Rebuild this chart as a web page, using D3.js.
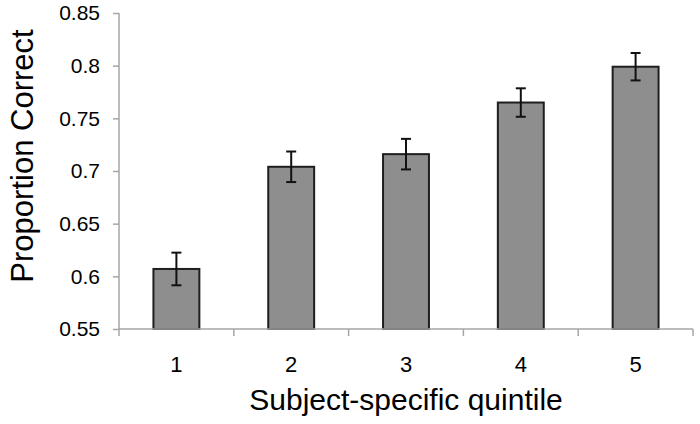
<!DOCTYPE html>
<html>
<head>
<meta charset="utf-8">
<script src="https://cdn.jsdelivr.net/npm/d3@7"></script>
<style>
  body { margin: 0; background: #fff; }
  svg { font-family: "Liberation Sans", Arial, sans-serif; }
  .axis path, .axis line { stroke: #a6a6a6; stroke-width: 1.5; }
</style>
</head>
<body>
<svg id="chart"></svg>
<script>
// Data
var categories = ["1", "2", "3", "4", "5"];
var values = [0.607, 0.704, 0.716, 0.765, 0.799];
var errors = [0.0155, 0.0145, 0.0145, 0.0135, 0.013];
var yTicks = [0.55, 0.6, 0.65, 0.7, 0.75, 0.8, 0.85];

var W = 700, H = 424;
var margin = { top: 13, right: 7, bottom: 95, left: 119 };

var svg = d3.select('#chart')
    .attr('width', W)
    .attr('height', H);

// Scales
var x = d3.scaleBand()
    .domain(categories)
    .range([margin.left, W - margin.right])
    .paddingInner(0.6)
    .paddingOuter(0.3);

var y = d3.scaleLinear()
    .domain([0.55, 0.85])
    .range([H - margin.bottom, margin.top]);

var data = categories.map(function (c, i) {
  return { cat: c, v: values[i], e: errors[i] };
});

// Y axis
var yAxis = d3.axisLeft(y)
    .tickValues(yTicks)
    .tickSize(6)
    .tickPadding(13)
    .tickFormat(function (d) { return String(+d.toFixed(2)); });

var gy = svg.append('g')
    .attr('class', 'axis axis--y')
    .attr('transform', 'translate(' + margin.left + ',0)')
    .call(yAxis);
gy.select('.domain').attr('d', 'M0,' + y(0.85) + 'V' + y(0.55));
gy.selectAll('text')
    .style('font-size', '21px')
    .attr('fill', '#000');

// Bars
svg.selectAll('rect.bar')
    .data(data)
  .enter().append('rect')
    .attr('class', 'bar')
    .attr('x', function (d) { return x(d.cat); })
    .attr('width', x.bandwidth())
    .attr('y', function (d) { return y(d.v); })
    .attr('height', function (d) { return y(0.55) - y(d.v); })
    .attr('fill', '#8e8e8e')
    .attr('stroke', '#1e1e1e')
    .attr('stroke-width', 2);

// X axis (labels at band centres, ticks at band edges)
var gx = svg.append('g')
    .attr('class', 'axis axis--x')
    .attr('transform', 'translate(0,' + y(0.55) + ')');

gx.append('line')
    .attr('x1', margin.left)
    .attr('x2', W - margin.right)
    .attr('y1', 0)
    .attr('y2', 0);

var gap = x.step() - x.bandwidth();
var edges = categories.map(function (c) { return x(c) - gap / 2; });
edges.push(x(categories[categories.length - 1]) + x.bandwidth() + gap / 2);

gx.selectAll('line.tick')
    .data(edges)
  .enter().append('line')
    .attr('class', 'tick')
    .attr('x1', function (d) { return d; })
    .attr('x2', function (d) { return d; })
    .attr('y1', 0)
    .attr('y2', 7);

gx.selectAll('text.lbl')
    .data(categories)
  .enter().append('text')
    .attr('class', 'lbl')
    .attr('x', function (d) { return x(d) + x.bandwidth() / 2; })
    .attr('y', 43)
    .attr('text-anchor', 'middle')
    .style('font-size', '22px')
    .text(function (d) { return d; });

// Error bars
var eb = svg.selectAll('g.err')
    .data(data)
  .enter().append('g')
    .attr('class', 'err')
    .attr('stroke', '#111')
    .attr('stroke-width', 2);

eb.append('line')
    .attr('x1', function (d) { return x(d.cat) + x.bandwidth() / 2; })
    .attr('x2', function (d) { return x(d.cat) + x.bandwidth() / 2; })
    .attr('y1', function (d) { return y(d.v + d.e); })
    .attr('y2', function (d) { return y(d.v - d.e); });

[1, -1].forEach(function (s) {
  eb.append('line')
      .attr('x1', function (d) { return x(d.cat) + x.bandwidth() / 2 - 5; })
      .attr('x2', function (d) { return x(d.cat) + x.bandwidth() / 2 + 5; })
      .attr('y1', function (d) { return y(d.v + s * d.e); })
      .attr('y2', function (d) { return y(d.v + s * d.e); });
});

// Axis titles
svg.append('text')
    .attr('x', (margin.left + W - margin.right) / 2)
    .attr('y', 410)
    .attr('text-anchor', 'middle')
    .style('font-size', '30px')
    .text('Subject-specific quintile');

svg.append('text')
    .attr('transform', 'translate(33,156) rotate(-90)')
    .attr('text-anchor', 'middle')
    .style('font-size', '31px')
    .text('Proportion Correct');
</script>
</body>
</html>
